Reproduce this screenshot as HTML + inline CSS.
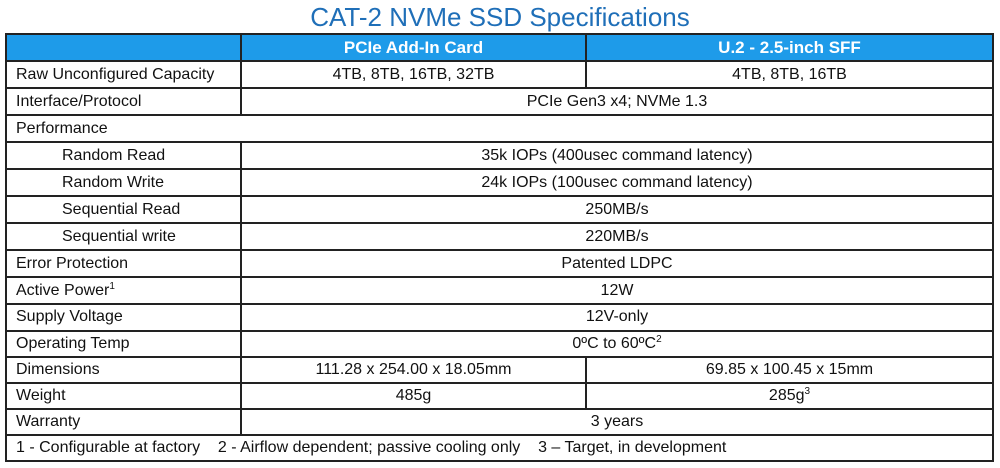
<!DOCTYPE html>
<html><head><meta charset="utf-8"><style>
body{margin:0;width:1000px;height:468px;background:#fff;font-family:"Liberation Sans",sans-serif;overflow:hidden;position:relative}
.title{position:absolute;top:0;left:0;width:1000px;text-align:center;font-size:26px;color:#1f6fb8;line-height:34px}
table{position:absolute;left:5px;top:33px;width:989px;border-collapse:collapse;font-size:16px;color:#111}
td{border:2px solid #222;padding:0 0 0 9px;white-space:nowrap;box-sizing:border-box}
td.c{text-align:center;padding:0}
tr.h td{background:#1e9be9;color:#fff;font-weight:bold;font-size:17px;height:27px}
tr.a td{height:27.05px}
tr.b td{height:26.1px}
.i{padding-left:55px}
sup{font-size:10px;vertical-align:6px;line-height:0}
</style></head><body>
<div class="title">CAT-2 NVMe SSD Specifications</div>
<table>
<colgroup><col style="width:235px"><col style="width:345px"><col></colgroup>
<tr class="h"><td></td><td class="c">PCIe Add-In Card</td><td class="c">U.2 - 2.5-inch SFF</td></tr>
<tr class="a" style="height:26px"><td>Raw Unconfigured Capacity</td><td class="c">4TB, 8TB, 16TB, 32TB</td><td class="c">4TB, 8TB, 16TB</td></tr>
<tr class="a"><td>Interface/Protocol</td><td class="c" colspan="2">PCIe Gen3 x4; NVMe 1.3</td></tr>
<tr class="a"><td colspan="3">Performance</td></tr>
<tr class="a"><td class="i">Random Read</td><td class="c" colspan="2">35k IOPs (400usec command latency)</td></tr>
<tr class="a"><td class="i">Random Write</td><td class="c" colspan="2">24k IOPs (100usec command latency)</td></tr>
<tr class="a"><td class="i">Sequential Read</td><td class="c" colspan="2">250MB/s</td></tr>
<tr class="a"><td class="i">Sequential write</td><td class="c" colspan="2">220MB/s</td></tr>
<tr class="a"><td>Error Protection</td><td class="c" colspan="2">Patented LDPC</td></tr>
<tr class="a"><td>Active Power<sup>1</sup></td><td class="c" colspan="2">12W</td></tr>
<tr class="b"><td>Supply Voltage</td><td class="c" colspan="2">12V-only</td></tr>
<tr class="b"><td>Operating Temp</td><td class="c" colspan="2">0ºC to 60ºC<sup>2</sup></td></tr>
<tr class="b"><td>Dimensions</td><td class="c">111.28 x 254.00 x 18.05mm</td><td class="c">69.85 x 100.45 x 15mm</td></tr>
<tr class="b"><td>Weight</td><td class="c">485g</td><td class="c">285g<sup>3</sup></td></tr>
<tr class="b"><td>Warranty</td><td class="c" colspan="2">3 years</td></tr>
<tr class="b"><td colspan="3">1 - Configurable at factory &nbsp;&nbsp; 2 - Airflow dependent; passive cooling only &nbsp;&nbsp; 3 – Target, in development</td></tr>
</table>
</body></html>
